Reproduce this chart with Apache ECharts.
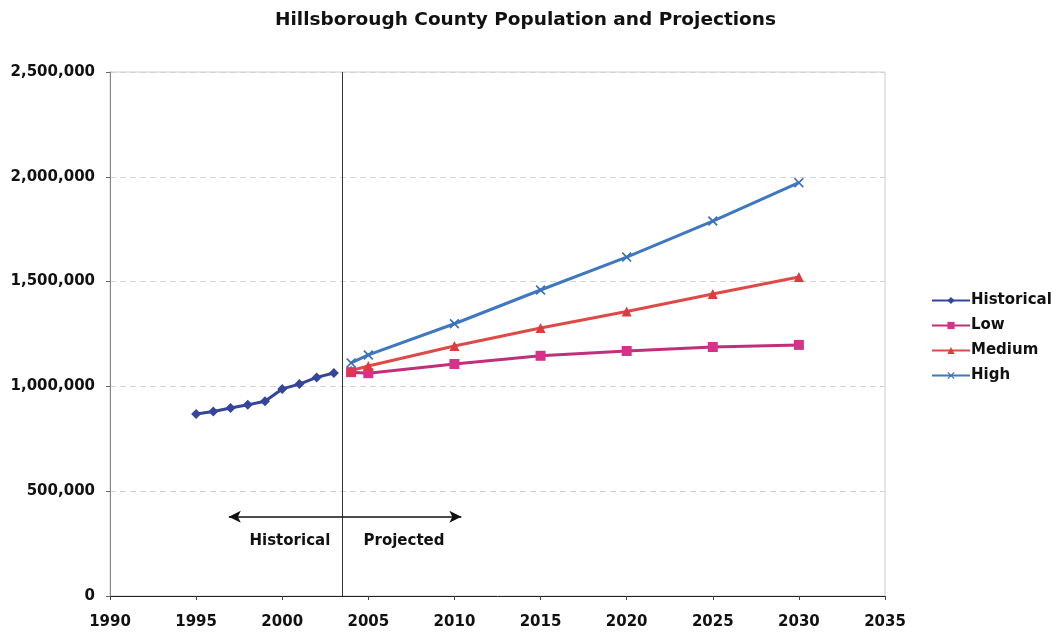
<!DOCTYPE html>
<html>
<head>
<meta charset="utf-8">
<script src="https://cdn.jsdelivr.net/npm/echarts@6/dist/echarts.min.js"></script>
<style>
  html, body { margin: 0; padding: 0; background: #fff; }
  #chart { width: 1060px; height: 636px; }
</style>
</head>
<body>
<div id="chart"></div>
<script>
// Population, Hillsborough County
const historicalYears = [1995, 1996, 1997, 1998, 1999, 2000, 2001, 2002, 2003];
const historicalPop = [868000, 880000, 897000, 912000, 929000, 988000, 1011000, 1043000, 1064000];

const projectionYears = [2004, 2005, 2010, 2015, 2020, 2025, 2030];
const lowPop    = [1068000, 1063000, 1107000, 1146000, 1169000, 1188000, 1198000];
const mediumPop = [1076000, 1097000, 1193000, 1279000, 1357000, 1441000, 1522000];
const highPop   = [1112000, 1150000, 1299000, 1460000, 1617000, 1789000, 1972000];

const xTicks = { min: 1990, max: 2035, step: 5 };
const yTicks = { min: 0, max: 2500000, step: 500000 };

// Divider between historical and projected data, and the span of the arrow under it
const dividerYear = 2003.5;
const arrowSpan = { from: 1996.9, to: 2010.4, level: 378000 };

const FONT = 'DejaVu Sans, Verdana, sans-serif';
const crossPath = 'path://M0,1.2L1.2,0L5,3.8L8.8,0L10,1.2L6.2,5L10,8.8L8.8,10L5,6.2L1.2,10L0,8.8L3.8,5Z';

const pairs = (xs, ys) => xs.map((x, i) => [x, ys[i]]);

const chart = echarts.init(document.getElementById('chart'));

chart.setOption({
  animation: false,
  backgroundColor: '#fff',
  title: {
    text: 'Hillsborough County Population and Projections',
    left: 270,
    top: 6,
    textStyle: { fontFamily: FONT, fontSize: 18.5, fontWeight: 'bold', color: '#111' }
  },
  legend: {
    orient: 'vertical',
    left: 926,
    top: 288,
    itemWidth: 38,
    itemHeight: 9,
    itemGap: 10,
    textStyle: { fontFamily: FONT, fontSize: 15, fontWeight: 'bold', color: '#111', padding: [0, 0, 0, -4] },
    data: ['Historical', 'Low', 'Medium', 'High']
  },
  grid: {
    left: 110, right: 175, top: 72, bottom: 40,
    show: true, borderColor: '#cccccc', borderWidth: 1
  },
  xAxis: {
    type: 'value',
    min: xTicks.min, max: xTicks.max, interval: xTicks.step,
    axisLine: { lineStyle: { color: '#222', width: 1 } },
    axisTick: { show: true, length: 4, lineStyle: { color: '#444' } },
    splitLine: { show: false },
    axisLabel: {
      fontFamily: FONT, fontSize: 15, fontWeight: 'bold', color: '#111', margin: 19,
      formatter: v => String(v)
    }
  },
  yAxis: {
    type: 'value',
    min: yTicks.min, max: yTicks.max, interval: yTicks.step,
    axisLine: { show: true, lineStyle: { color: '#888', width: 1 } },
    axisTick: { show: true, length: 4, lineStyle: { color: '#666' } },
    splitLine: { show: true, lineStyle: { color: '#d4d4d4', type: [6, 4], width: 1 } },
    axisLabel: {
      fontFamily: FONT, fontSize: 15, fontWeight: 'bold', color: '#111', margin: 15,
      formatter: v => v.toLocaleString('en-US')
    }
  },
  series: [
    {
      name: 'Historical', type: 'line',
      data: pairs(historicalYears, historicalPop),
      symbol: 'diamond', symbolSize: 10,
      lineStyle: { color: '#34459a', width: 3 },
      itemStyle: { color: '#34459a' },
      markLine: {
        silent: true, symbol: 'none', label: { show: false },
        lineStyle: { color: '#333', width: 1, type: 'solid' },
        data: [{ xAxis: dividerYear }]
      }
    },
    {
      name: 'Low', type: 'line',
      data: pairs(projectionYears, lowPop),
      symbol: 'rect', symbolSize: 10,
      lineStyle: { color: '#c0307a', width: 3 },
      itemStyle: { color: '#d8318a' },
      markLine: {
        silent: true, symbol: ['arrow', 'arrow'], symbolSize: [9, 12],
        label: { show: false },
        lineStyle: { color: '#111', width: 1.5, type: 'solid' },
        data: [[
          { coord: [arrowSpan.from, arrowSpan.level] },
          { coord: [arrowSpan.to, arrowSpan.level] }
        ]]
      }
    },
    {
      name: 'Medium', type: 'line',
      data: pairs(projectionYears, mediumPop),
      symbol: 'triangle', symbolSize: 10,
      lineStyle: { color: '#de4a48', width: 3 },
      itemStyle: { color: '#de3c3c' }
    },
    {
      name: 'High', type: 'line',
      data: pairs(projectionYears, highPop),
      symbol: crossPath, symbolSize: 10,
      lineStyle: { color: '#3f78c0', width: 3 },
      itemStyle: { color: '#3a70bb' }
    }
  ]
});

// Side labels either side of the divider, placed just under the arrow
const [divX, arrowY] = chart.convertToPixel({ gridIndex: 0 }, [dividerYear, arrowSpan.level]);
chart.setOption({
  graphic: [
    {
      type: 'text', left: divX - 93, top: arrowY + 17,
      style: { text: 'Historical', fontFamily: FONT, fontSize: 15, fontWeight: 'bold', fill: '#111' }
    },
    {
      type: 'text', left: divX + 21, top: arrowY + 17,
      style: { text: 'Projected', fontFamily: FONT, fontSize: 15, fontWeight: 'bold', fill: '#111' }
    }
  ]
});
</script>
</body>
</html>
